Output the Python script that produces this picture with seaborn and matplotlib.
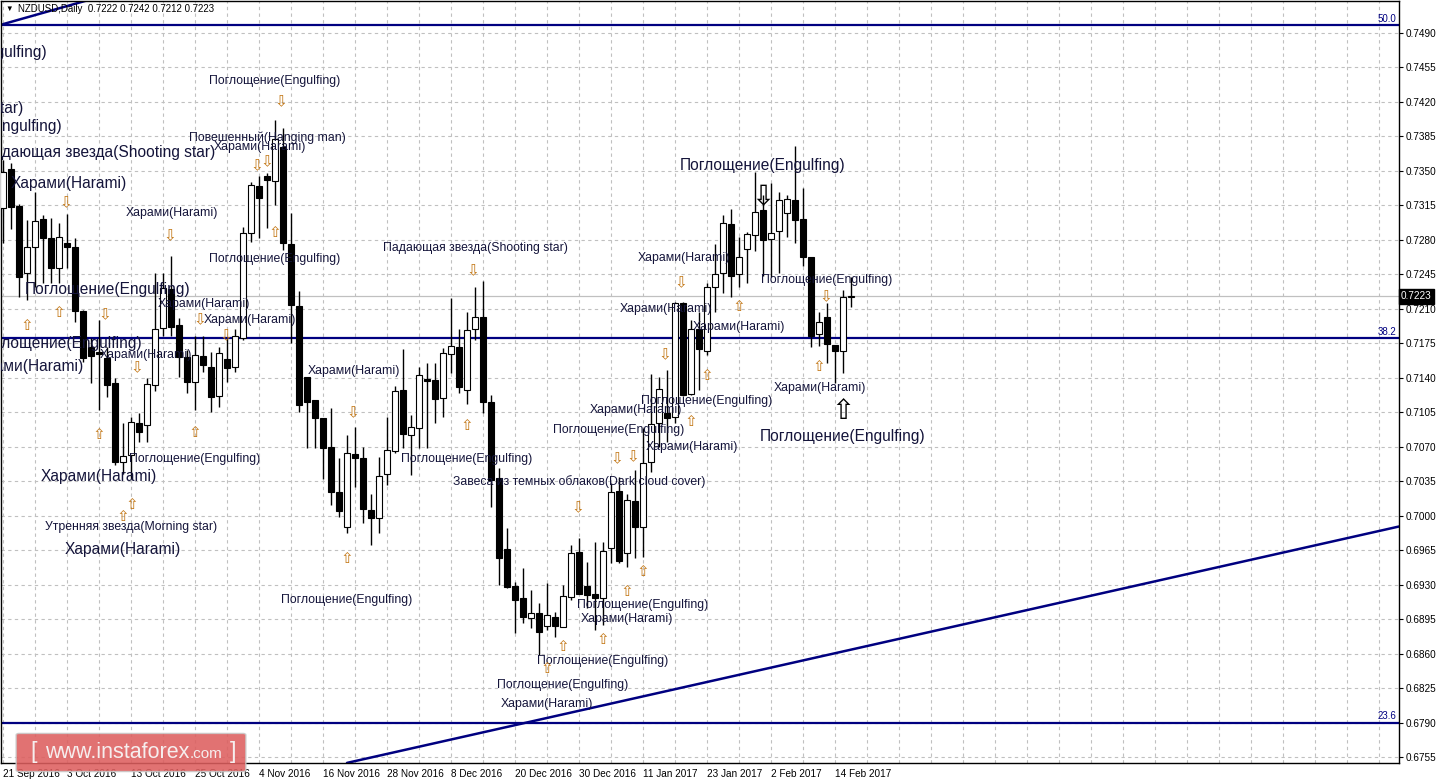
import numpy as np
import pandas as pd
import matplotlib
matplotlib.use('Agg')
import matplotlib.pyplot as plt
import seaborn as sns
from matplotlib.patches import FancyBboxPatch
import matplotlib.transforms as mtransforms

# NZDUSD daily candles, 21 Sep 2016 .. 16 Feb 2017
opens = [0.7312, 0.7352, 0.7314, 0.7246, 0.7273, 0.7301, 0.7282, 0.7251, 0.7277, 0.7273,
         0.7208, 0.7171, 0.7166, 0.7160, 0.7135, 0.7054, 0.7062, 0.7094, 0.7092, 0.7133,
         0.7191, 0.7230, 0.7194, 0.7161, 0.7136, 0.7162, 0.7151, 0.7121, 0.7159, 0.7151,
         0.7180, 0.7287, 0.7335, 0.7345, 0.7340, 0.7374, 0.7276, 0.7213, 0.7141, 0.7117,
         0.7099, 0.7070, 0.7024, 0.6989, 0.7063, 0.7059, 0.7006, 0.6998, 0.7042, 0.7066,
         0.7128, 0.7082, 0.7089, 0.7139, 0.7138, 0.7119, 0.7164, 0.7171, 0.7128, 0.7190,
         0.7202, 0.7115, 0.7038, 0.6966, 0.6929, 0.6916, 0.6896, 0.6901, 0.6888, 0.6897,
         0.6887, 0.6917, 0.6963, 0.6929, 0.6920, 0.6916, 0.6967, 0.7025, 0.6962, 0.7015,
         0.6989, 0.7054, 0.7094, 0.7104, 0.7100, 0.7216, 0.7124, 0.7190, 0.7167, 0.7232,
         0.7246, 0.7296, 0.7245, 0.7271, 0.7285, 0.7310, 0.7281, 0.7289, 0.7307, 0.7320,
         0.7301, 0.7263, 0.7184, 0.7202, 0.7173, 0.7167, 0.7222]
highs = [0.7361, 0.7358, 0.7316, 0.7300, 0.7329, 0.7305, 0.7302, 0.7297, 0.7306, 0.7282,
         0.7209, 0.7180, 0.7199, 0.7171, 0.7140, 0.7094, 0.7100, 0.7104, 0.7140, 0.7246,
         0.7246, 0.7264, 0.7201, 0.7168, 0.7182, 0.7182, 0.7166, 0.7171, 0.7180, 0.7189,
         0.7293, 0.7339, 0.7345, 0.7348, 0.7402, 0.7394, 0.7307, 0.7228, 0.7141, 0.7117,
         0.7099, 0.7109, 0.7059, 0.7082, 0.7090, 0.7070, 0.7022, 0.7060, 0.7100, 0.7132,
         0.7169, 0.7102, 0.7151, 0.7155, 0.7155, 0.7170, 0.7221, 0.7189, 0.7207, 0.7232,
         0.7238, 0.7123, 0.7048, 0.6987, 0.6933, 0.6947, 0.6925, 0.6911, 0.6932, 0.6902,
         0.6930, 0.6970, 0.6977, 0.6953, 0.6973, 0.6973, 0.7033, 0.7039, 0.7022, 0.7046,
         0.7089, 0.7144, 0.7141, 0.7148, 0.7217, 0.7217, 0.7199, 0.7207, 0.7236, 0.7276,
         0.7305, 0.7311, 0.7283, 0.7288, 0.7349, 0.7326, 0.7338, 0.7329, 0.7326, 0.7375,
         0.7333, 0.7263, 0.7207, 0.7216, 0.7173, 0.7229, 0.7242]
lows = [0.7277, 0.7291, 0.7222, 0.7219, 0.7232, 0.7236, 0.7236, 0.7236, 0.7251, 0.7197,
        0.7156, 0.7135, 0.7107, 0.7120, 0.7051, 0.7042, 0.7037, 0.7075, 0.7075, 0.7127,
        0.7182, 0.7182, 0.7141, 0.7125, 0.7107, 0.7146, 0.7105, 0.7110, 0.7136, 0.7146,
        0.7178, 0.7278, 0.7282, 0.7292, 0.7315, 0.7270, 0.7175, 0.7105, 0.7069, 0.7069,
        0.7037, 0.7011, 0.6999, 0.6982, 0.7029, 0.6993, 0.6970, 0.6982, 0.7031, 0.7064,
        0.7069, 0.7041, 0.7069, 0.7069, 0.7094, 0.7100, 0.7145, 0.7125, 0.7113, 0.7178,
        0.7104, 0.7009, 0.6930, 0.6927, 0.6881, 0.6891, 0.6886, 0.6859, 0.6884, 0.6877,
        0.6887, 0.6914, 0.6920, 0.6906, 0.6884, 0.6889, 0.6952, 0.6952, 0.6948, 0.6957,
        0.6958, 0.7044, 0.7070, 0.7075, 0.7094, 0.7121, 0.7123, 0.7128, 0.7163, 0.7207,
        0.7226, 0.7222, 0.7232, 0.7236, 0.7269, 0.7243, 0.7242, 0.7246, 0.7283, 0.7277,
        0.7253, 0.7171, 0.7172, 0.7155, 0.7135, 0.7145, 0.7212]
closes = [0.7349, 0.7313, 0.7242, 0.7273, 0.7299, 0.7282, 0.7251, 0.7283, 0.7273, 0.7208,
          0.7160, 0.7162, 0.7164, 0.7133, 0.7054, 0.7061, 0.7095, 0.7085, 0.7134, 0.7189,
          0.7231, 0.7192, 0.7161, 0.7136, 0.7163, 0.7153, 0.7120, 0.7165, 0.7150, 0.7182,
          0.7287, 0.7336, 0.7323, 0.7341, 0.7382, 0.7277, 0.7214, 0.7112, 0.7115, 0.7099,
          0.7069, 0.7024, 0.7005, 0.7064, 0.7059, 0.7007, 0.6998, 0.7040, 0.7067, 0.7127,
          0.7083, 0.7090, 0.7143, 0.7137, 0.7118, 0.7165, 0.7172, 0.7131, 0.7188, 0.7202,
          0.7115, 0.7036, 0.6957, 0.6928, 0.6914, 0.6897, 0.6901, 0.6882, 0.6899, 0.6888,
          0.6918, 0.6962, 0.6920, 0.6919, 0.6916, 0.6964, 0.7024, 0.6954, 0.7016, 0.6989,
          0.7053, 0.7093, 0.7129, 0.7099, 0.7216, 0.7122, 0.7189, 0.7169, 0.7232, 0.7245,
          0.7297, 0.7243, 0.7263, 0.7286, 0.7308, 0.7280, 0.7287, 0.7320, 0.7321, 0.7300,
          0.7263, 0.7182, 0.7197, 0.7174, 0.7167, 0.7222, 0.7223]

date_labels = ['21 Sep 2016', '3 Oct 2016', '13 Oct 2016', '25 Oct 2016', '4 Nov 2016',
               '16 Nov 2016', '28 Nov 2016', '8 Dec 2016', '20 Dec 2016', '30 Dec 2016',
               '11 Jan 2017', '23 Jan 2017', '2 Feb 2017', '14 Feb 2017']

# fibo levels and trend lines
fibo_levels = [0.7498, 0.7180, 0.6790]
fibo_names = ['50.0', '38.2', '23.6']
trend_x = [43, 174.5]
trend_y = [0.6749, 0.6989]
trend2_x = [0, 10.9]
trend2_y = [0.7499, 0.7524]
last_price = 0.7223

# pattern labels: (bar, price, text, large font)
patterns = [
    (-4.75, 0.7470, 'Поглощение(Engulfing)', True),
    (-12.0, 0.7413, 'Падающая звезда(Shooting star)', True),
    (-2.9, 0.7395, 'Поглощение(Engulfing)', True),
    (12.0, 0.7369, 'Падающая звезда(Shooting star)', True),
    (8.2, 0.7337, 'Харами(Harami)', True),
    (13.1, 0.7230, 'Поглощение(Engulfing)', True),
    (7.1, 0.7175, 'Поглощение(Engulfing)', True),
    (2.9, 0.7151, 'Харами(Harami)', True),
    (12.0, 0.7040, 'Харами(Harami)', True),
    (15.0, 0.6966, 'Харами(Harami)', True),
    (94.9, 0.7356, 'Поглощение(Engulfing)', True),
    (105.0, 0.7080, 'Поглощение(Engulfing)', True),
    (34.0, 0.7441, 'Поглощение(Engulfing)', False),
    (33.0, 0.7384, 'Повешенный(Hanging man)', False),
    (32.1, 0.7374, 'Харами(Harami)', False),
    (21.1, 0.7307, 'Харами(Harami)', False),
    (34.0, 0.7261, 'Поглощение(Engulfing)', False),
    (59.1, 0.7272, 'Падающая звезда(Shooting star)', False),
    (25.1, 0.7215, 'Харами(Harami)', False),
    (30.9, 0.7199, 'Харами(Harami)', False),
    (17.9, 0.7163, 'Харами(Harami)', False),
    (43.9, 0.7147, 'Харами(Harami)', False),
    (23.9, 0.7058, 'Поглощение(Engulfing)', False),
    (16.0, 0.6988, 'Утренняя звезда(Morning star)', False),
    (43.0, 0.6914, 'Поглощение(Engulfing)', False),
    (58.0, 0.7058, 'Поглощение(Engulfing)', False),
    (72.0, 0.7035, 'Завеса из темных облаков(Dark cloud cover)', False),
    (85.1, 0.7262, 'Харами(Harami)', False),
    (82.9, 0.7210, 'Харами(Harami)', False),
    (92.0, 0.7192, 'Харами(Harami)', False),
    (103.0, 0.7239, 'Поглощение(Engulfing)', False),
    (102.1, 0.7130, 'Харами(Harami)', False),
    (87.9, 0.7116, 'Поглощение(Engulfing)', False),
    (79.1, 0.7107, 'Харами(Harami)', False),
    (77.0, 0.7087, 'Поглощение(Engulfing)', False),
    (86.1, 0.7070, 'Харами(Harami)', False),
    (80.0, 0.6909, 'Поглощение(Engulfing)', False),
    (78.0, 0.6895, 'Харами(Harami)', False),
    (75.0, 0.6852, 'Поглощение(Engulfing)', False),
    (70.0, 0.6828, 'Поглощение(Engulfing)', False),
    (68.0, 0.6809, 'Харами(Harami)', False),
]

up_arrows = [(3, 0.7193), (7, 0.7206), (12, 0.7082), (24, 0.7084), (34, 0.7287),
             (16.1, 0.7011), (15, 0.6999), (43, 0.6957), (58, 0.7092), (70, 0.6867),
             (75, 0.6874), (78, 0.6923), (80, 0.6943), (86, 0.7096), (88, 0.7142),
             (92, 0.7212), (102, 0.7151), (68, 0.6845)]
down_arrows = [(34.75, 0.7420), (31.75, 0.7355), (33, 0.7359), (7.9, 0.7318), (20.9, 0.7284),
               (12.75, 0.7204), (24.6, 0.7199), (27.9, 0.7183), (16.75, 0.7150), (43.75, 0.7105),
               (58.75, 0.7249), (71.9, 0.7008), (76.75, 0.7058), (78.75, 0.7060), (82.75, 0.7163),
               (84.75, 0.7236), (102.9, 0.7222)]
big_down = [(95, 0.7323)]
big_up = [(105, 0.7106)]

df = pd.DataFrame({'open': opens, 'high': highs, 'low': lows, 'close': closes})
df['bar'] = np.arange(len(df))
df['bull'] = df['close'] >= df['open']

sns.set_style('white')
plt.rcParams['font.family'] = ['Liberation Sans', 'DejaVu Sans']

W, H = 1439, 784
fig = plt.figure(figsize=(W / 100, H / 100), dpi=100)
ax = fig.add_axes([1 / W, 21 / H, 1398 / W, 762 / H])
ax.set_xlim(-0.25, 174.5)
ax.set_ylim(0.67489, 0.75225)

yticks = np.round(np.arange(0.6755, 0.74901, 0.0035), 4)
grid_kw = dict(color='#c0c0c0', lw=0.8, linestyle=(0, (3, 3)), zorder=0)
ax.hlines(yticks, -0.25, 174.5, **grid_kw)
ax.vlines(np.arange(0, 175, 4), 0.67489, 0.75225, **grid_kw)

# current price line
ax.axhline(last_price, color='#c0c0c0', lw=0.9, zorder=1)

# fibo levels
for lvl, name in zip(fibo_levels, fibo_names):
    ax.axhline(lvl, color='#000080', lw=1.6, zorder=2)
    ax.text(174.2, lvl + 0.00012, name, ha='right', va='bottom', fontsize=7, color='#000080')

sns.lineplot(x=trend_x, y=trend_y, ax=ax, color='#000080', lw=1.8, zorder=2)
sns.lineplot(x=trend2_x, y=trend2_y, ax=ax, color='#000080', lw=1.8, zorder=2)

# candles
ax.vlines(df['bar'], df['low'], df['high'], color='black', lw=1, zorder=3)
body = (df['close'] - df['open']).abs().clip(lower=0.00006)
bottom = df[['open', 'close']].min(axis=1)
ax.bar(df['bar'], body, bottom=bottom, width=0.66,
       color=np.where(df['bull'], 'white', 'black'), edgecolor='black', lw=0.8, zorder=4)

# pattern names
for bx, py, txt, big in patterns:
    ax.text(bx, py, txt, ha='center', va='center', fontsize=11.2 if big else 8.8,
            color='#14143a', clip_on=True, zorder=5)

arrow_font = ['DejaVu Sans']
for bx, py in up_arrows:
    ax.text(bx, py, '⇧', ha='center', va='center', fontsize=11, color='#c27512',
            family=arrow_font, zorder=5)
for bx, py in down_arrows:
    ax.text(bx, py, '⇩', ha='center', va='center', fontsize=11, color='#c27512',
            family=arrow_font, zorder=5)
for bx, py in big_down:
    ax.text(bx, py, '⇩', ha='center', va='center', fontsize=20, color='black',
            family=arrow_font, zorder=5)
for bx, py in big_up:
    ax.text(bx, py, '⇧', ha='center', va='center', fontsize=20, color='black',
            family=arrow_font, zorder=5)

# axes
for sp in ax.spines.values():
    sp.set_color('black')
    sp.set_linewidth(1)
ax.set_yticks(yticks)
ax.set_yticklabels([f'{v:.4f}' for v in yticks])
ax.yaxis.tick_right()
ax.tick_params(axis='y', length=3, width=0.8, labelsize=7.2, pad=2, colors='black')
ax.set_xticks(np.arange(0, 8 * len(date_labels), 8))
ax.set_xticklabels(date_labels)
ax.tick_params(axis='x', length=3, width=0.8, labelsize=7.2, pad=1, colors='black')
for lbl in ax.get_xticklabels():
    lbl.set_ha('left')

# last price tag on the scale
trans = mtransforms.blended_transform_factory(ax.transAxes, ax.transData)
ax.text(1.0015, last_price, '0.7223', transform=trans, ha='left', va='center',
        fontsize=7.2, color='white', clip_on=False,
        bbox=dict(boxstyle='square,pad=0.25', fc='black', ec='black'))

# header
fig.text(5 / W, 1 - 9 / H, '▼', fontsize=5.5, va='center', ha='left', color='black')
fig.text(18 / W, 1 - 9 / H, 'NZDUSD,Daily  0.7222 0.7242 0.7212 0.7223', fontsize=7,
         va='center', ha='left', color='black')

# watermark
wm = FancyBboxPatch((19 / W, (H - 770) / H), 224 / W, 35 / H,
                    boxstyle='round,pad=0.002', transform=fig.transFigure,
                    fc='#dd5e5e', ec='#c9c9c9', lw=1, alpha=0.88, zorder=10)
fig.patches.append(wm)
yc = 1 - 752 / H
fig.text(30 / W, yc, '[', fontsize=17, color='#f6eeee', va='center', ha='left', zorder=11)
fig.text(45 / W, yc, 'www.instaforex', fontsize=15.5, color='#f6eeee', va='center',
         ha='left', zorder=11)
fig.text(190 / W, yc - 0.002, '.com', fontsize=11, color='#f6eeee', va='center',
         ha='left', zorder=11)
fig.text(230 / W, yc, ']', fontsize=17, color='#f6eeee', va='center', ha='left', zorder=11)

fig.savefig('out.png', dpi=100)
